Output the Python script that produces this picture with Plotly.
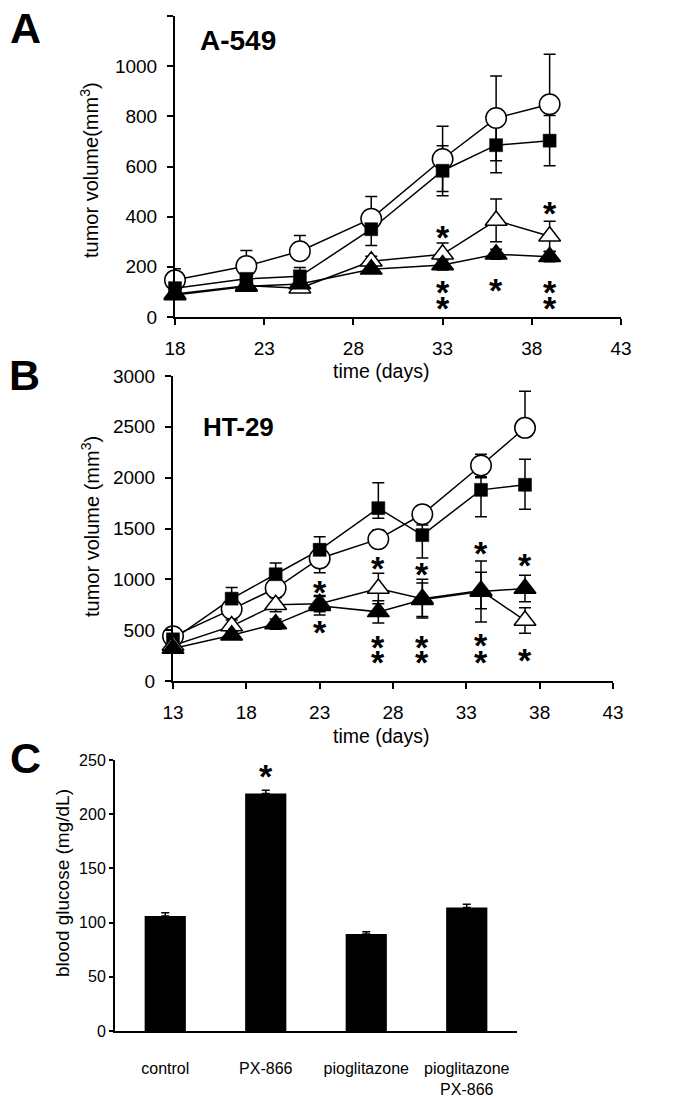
import plotly.graph_objects as go

# page is 698x1099; the html body has an 8px margin, so the figure is 690x1091
PAGE_OFF = 8
W, H = 690, 1091
FONT = "Liberation Sans, Arial, sans-serif"

# ---------------- Panel A (A-549) ----------------
days_a = [18, 22, 25, 29, 33, 36, 39]
a_control = [147, 203, 262, 392, 630, 793, 848]
a_control_up = [45, 62, 63, 88, 130, 168, 200]
a_control_dn = [0, 0, 0, 0, 130, 170, 0]
a_px866 = [115, 152, 162, 350, 583, 685, 703]
a_px866_err = [20, 25, 35, 65, 100, 110, 100]
a_pio = [92, 125, 115, 222, 250, 385, 322]
a_pio_err = [10, 15, 15, 20, 45, 85, 60]
a_combo = [88, 122, 132, 190, 207, 250, 240]
a_combo_err = [10, 10, 10, 15, 20, 20, 20]
a_star_x = [33, 33, 33, 36, 39, 39, 39]
a_star_y = [339, 120, 56, 128, 435, 120, 56]
a_xticks = [18, 23, 28, 33, 38, 43]
a_yticks = [0, 200, 400, 600, 800, 1000, 1200]

# ---------------- Panel B (HT-29) ----------------
days_b = [13, 17, 20, 23, 27, 30, 34, 37]
b_control = [440, 705, 912, 1205, 1395, 1640, 2120, 2490]
b_control_up = [40, 80, 80, 140, 90, 80, 110, 360]
b_control_dn = [0, 0, 0, 140, 0, 0, 110, 0]
b_px866 = [410, 810, 1050, 1290, 1700, 1435, 1880, 1930]
b_px866_up = [40, 110, 110, 130, 250, 100, 120, 250]
b_px866_dn = [40, 100, 100, 100, 100, 225, 265, 240]
b_pio = [350, 540, 750, 760, 910, 810, 890, 595]
b_pio_err = [30, 60, 70, 80, 150, 190, 180, 125]
b_combo = [320, 450, 560, 740, 680, 800, 880, 910]
b_combo_err = [30, 40, 50, 90, 110, 165, 300, 130]
b_star_x = [23, 23, 27, 27, 27, 30, 30, 30, 34, 34, 34, 37, 37]
b_star_y = [925, 530, 1160, 384, 236, 1105, 384, 236, 1308, 403, 236, 1190, 255]
b_xticks = [13, 18, 23, 28, 33, 38, 43]
b_yticks = [0, 500, 1000, 1500, 2000, 2500, 3000]

# ---------------- Panel C (blood glucose) ----------------
c_groups = ["control", "PX-866", "pioglitazone", "pioglitazone<br>PX-866"]
c_glucose = [106, 219, 89.5, 114]
c_glucose_err = [3, 3, 2, 3]
c_star_group = ["PX-866"]
c_star_y = [240]
c_yticks = [0, 50, 100, 150, 200, 250]


def px_x(p):
    return (p - PAGE_OFF) / W


def px_y(p):
    return 1 - (p - PAGE_OFF) / H


fig = go.Figure()

LINE = dict(color="black", width=1.5)


def err(up, dn=None):
    d = dict(type="data", array=up, color="black", thickness=1.5, width=6, visible=True)
    if dn is not None:
        d["symmetric"] = False
        d["arrayminus"] = dn
    return d


def add_panel(xs, series, xa, ya):
    # lines + error bars first (below all markers)
    for ys, up, dn, _sym in series:
        fig.add_trace(go.Scatter(x=xs, y=ys, mode="lines", line=LINE,
                                 error_y=err(up, dn), xaxis=xa, yaxis=ya,
                                 showlegend=False, hoverinfo="skip"))
    for ys, up, dn, sym in series:
        fig.add_trace(go.Scatter(x=xs, y=ys, mode="markers", marker=sym,
                                 xaxis=xa, yaxis=ya, cliponaxis=False,
                                 showlegend=False))


SYM_CIRCLE = dict(symbol="circle", size=20.5, color="white", line=dict(color="black", width=1.5))
SYM_SQUARE = dict(symbol="square", size=13, color="black", line=dict(color="black", width=0.5))
SYM_OPENTRI = dict(symbol="triangle-up", size=19, color="white", line=dict(color="black", width=1.5))
SYM_FILLTRI = dict(symbol="triangle-up", size=19, color="black", line=dict(color="black", width=1.5))

add_panel(days_a, [
    (a_control, a_control_up, a_control_dn, SYM_CIRCLE),
    (a_px866, a_px866_err, None, SYM_SQUARE),
    (a_pio, a_pio_err, None, SYM_OPENTRI),
    (a_combo, a_combo_err, None, SYM_FILLTRI),
], "x", "y")

add_panel(days_b, [
    (b_control, b_control_up, b_control_dn, SYM_CIRCLE),
    (b_px866, b_px866_up, b_px866_dn, SYM_SQUARE),
    (b_pio, b_pio_err, None, SYM_OPENTRI),
    (b_combo, b_combo_err, None, SYM_FILLTRI),
], "x2", "y2")

fig.add_trace(go.Bar(x=c_groups, y=c_glucose, width=0.41, marker=dict(color="black", line=dict(width=0)),
                     error_y=dict(type="data", symmetric=False, array=c_glucose_err,
                                  arrayminus=[0] * len(c_glucose_err),
                                  color="black", thickness=1.5, width=4),
                     xaxis="x3", yaxis="y3", showlegend=False))

annotations = []
STAR = dict(font=dict(family=FONT, size=34, color="black"), showarrow=False,
            xanchor="center", yanchor="middle", yshift=-5)
for x, y in zip(a_star_x, a_star_y):
    annotations.append(dict(x=x, y=y, xref="x", yref="y", text="<b>*</b>", **STAR))
for x, y in zip(b_star_x, b_star_y):
    annotations.append(dict(x=x, y=y, xref="x2", yref="y2", text="<b>*</b>", **STAR))
for x, y in zip(c_star_group, c_star_y):
    annotations.append(dict(x=x, y=y, xref="x3", yref="y3", text="<b>*</b>", **STAR))


def txt(text, x, y, size, bold=False, angle=0, xanchor="center"):
    annotations.append(dict(text=f"<b>{text}</b>" if bold else text,
                            x=px_x(x), y=px_y(y), xref="paper", yref="paper",
                            showarrow=False, textangle=angle, xanchor=xanchor, yanchor="middle",
                            font=dict(family=FONT, size=size, color="black")))


txt("A", 25, 28, 43, bold=True)
txt("B", 24, 375, 43, bold=True)
txt("C", 25, 758, 43, bold=True)
txt("A-549", 198, 40, 28, bold=True, xanchor="left")
txt("HT-29", 201, 427, 26, bold=True, xanchor="left")
txt("tumor volume(mm<sup>3</sup>)", 90, 170, 20, angle=-90)
txt("tumor volume (mm<sup>3</sup>)", 90, 527, 20, angle=-90)
txt("blood glucose (mg/dL)", 62, 883, 19, angle=-90)
txt("time (days)", 381, 371, 19.5)
txt("time (days)", 381, 736, 19.5)

AX = dict(showline=True, linecolor="black", linewidth=2, ticks="outside", ticklen=6,
          tickwidth=1.5, tickcolor="black", showgrid=False, zeroline=False,
          tickfont=dict(family=FONT, size=19, color="black"), automargin=False, fixedrange=True)

fig.update_layout(
    width=W, height=H, margin=dict(l=0, r=0, t=0, b=0, pad=0),
    paper_bgcolor="white", plot_bgcolor="white", showlegend=False,
    font=dict(family=FONT, color="black"),
    xaxis=dict(AX, domain=[px_x(175), px_x(621)], range=[18, 43], tickvals=a_xticks,
               anchor="y", ticklabelstandoff=7),
    yaxis=dict(AX, domain=[px_y(317), px_y(16)], range=[0, 1200], tickvals=a_yticks,
               anchor="x", ticklabelstandoff=6),
    xaxis2=dict(AX, domain=[px_x(173), px_x(613)], range=[13, 43], tickvals=b_xticks,
                anchor="y2", ticklabelstandoff=7),
    yaxis2=dict(AX, domain=[px_y(681), px_y(376)], range=[0, 3000], tickvals=b_yticks,
                anchor="x2", ticklabelstandoff=6),
    xaxis3=dict(AX, domain=[px_x(115), px_x(517)], range=[-0.5, 3.5], ticks="",
                tickfont=dict(family=FONT, size=16, color="black"), anchor="y3",
                ticklabelstandoff=22),
    yaxis3=dict(AX, domain=[px_y(1031), px_y(760)], range=[0, 250], tickvals=c_yticks,
                ticklen=4, tickfont=dict(family=FONT, size=16, color="black"), anchor="x3"),
    annotations=annotations,
)

fig.write_html("out.html")
